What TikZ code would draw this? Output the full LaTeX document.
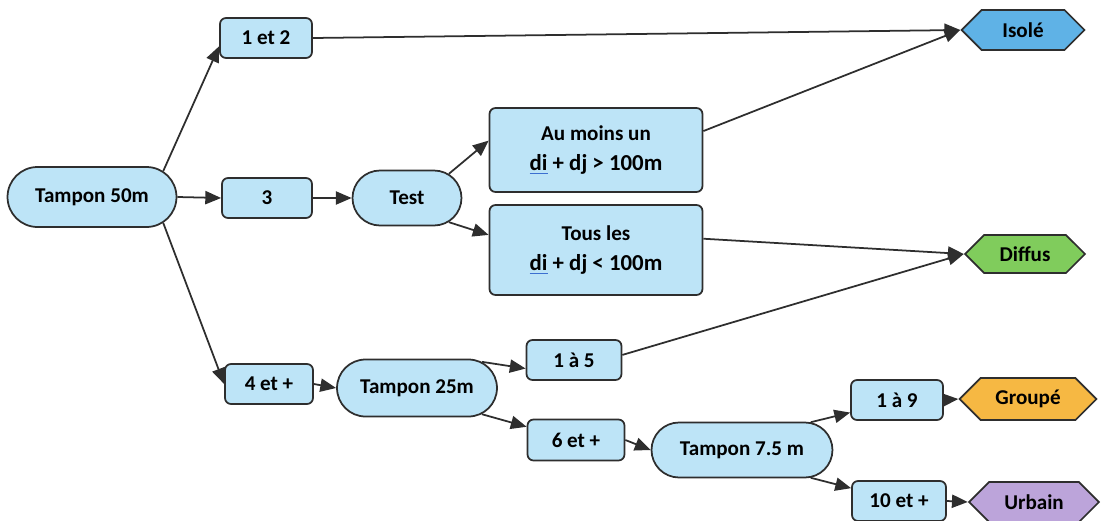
\documentclass[tikz,border=0pt]{standalone}
\usepackage{fontspec}
\setmainfont{Carlito}
\usetikzlibrary{arrows.meta,shapes.misc,shapes.symbols}
\definecolor{boxblue}{HTML}{BDE4F7}
\definecolor{linec}{HTML}{2E2E2E}
\definecolor{isoc}{HTML}{5FB2E6}
\definecolor{difc}{HTML}{80CC5C}
\definecolor{grc}{HTML}{F6B843}
\definecolor{urc}{HTML}{BCA4DA}
\definecolor{spell}{HTML}{3C6FD0}
\newcommand{\spl}[1]{{\color{spell}\underline{\color{black}#1}}}
\begin{document}
\begin{tikzpicture}[x=0.02cm,y=-0.02cm,
  base/.style={draw=linec, line width=1pt, inner sep=0pt, text=black,
    font=\bfseries\fontsize{12}{14}\selectfont},
  box/.style={base, fill=boxblue, rounded corners=0.12cm},
  pill/.style={base, fill=boxblue, rounded rectangle},
  hexa/.style={base, signal, signal to=west and east, signal pointer angle=90},
  conn/.style={draw=linec, line width=1pt, -{Triangle[length=9pt,width=7.5pt]}}]
\useasboundingbox (0,0) rectangle (1103,521);
% nodes
\node[pill, minimum width=3.38cm, minimum height=1.2cm] (t50) at (92,197) {Tampon 50m};
\node[box, minimum width=1.84cm, minimum height=0.8cm] (a12) at (266,38) {1 et 2};
\node[box, minimum width=1.8cm, minimum height=0.8cm] (a3) at (267,198) {3};
\node[pill, minimum width=2.18cm, minimum height=1.1cm] (test) at (407,198) {Test};
\node[box, minimum width=4.26cm, minimum height=1.68cm, align=center] (am) at (596,150)
  {{\fontsize{12}{14}\selectfont Au moins un}\\[3pt]{\fontsize{13}{15}\selectfont\spl{di} + dj > 100m}};
\node[box, minimum width=4.26cm, minimum height=1.8cm, align=center] (tl) at (596,250)
  {{\fontsize{12}{14}\selectfont Tous les}\\[3pt]{\fontsize{13}{15}\selectfont\spl{di} + dj < 100m}};
\node[hexa, fill=isoc, minimum width=2.46cm, minimum height=0.8cm] (iso) at (1023,30) {Isolé};
\node[hexa, fill=difc, minimum width=2.4cm, minimum height=0.76cm] (dif) at (1025,254) {Diffus};
\node[box, minimum width=1.76cm, minimum height=0.8cm] (a4) at (269,384) {4 et +};
\node[pill, minimum width=3.2cm, minimum height=1.14cm] (t25) at (417,388) {Tampon 25m};
\node[box, minimum width=1.9cm, minimum height=0.8cm] (a15) at (574,360) {1 à 5};
\node[box, minimum width=1.94cm, minimum height=0.82cm] (a6) at (576,440) {6 et +};
\node[pill, minimum width=3.62cm, minimum height=1.1cm] (t75) at (742,450) {Tampon 7.5 m};
\node[box, minimum width=1.84cm, minimum height=0.8cm] (a19) at (897,400) {1 à 9};
\node[hexa, fill=grc, minimum width=2.74cm, minimum height=0.84cm] (gr) at (1028,399) {Groupé};
\node[box, minimum width=1.88cm, minimum height=0.8cm] (a10) at (899,501) {10 et +};
\node[hexa, fill=urc, minimum width=2.6cm, minimum height=0.8cm] (ur) at (1034,502) {Urbain};
% connectors
\draw[conn] (t50.20) -- (a12.190);
\draw[conn] (t50.east) -- (a3.west);
\draw[conn] (t50.-20) -- (a4.west);
\draw[conn] (a12.east) -- (iso.west);
\draw[conn] (a3.east) -- (test.west);
\draw[conn] (test.30) -- (am.175);
\draw[conn] (test.-30) -- (tl.172);
\draw[conn] (am.10) -- (iso.west);
\draw[conn] (tl.6) -- (dif.west);
\draw[conn] (a4.east) -- (t25.west);
\draw[conn] (t25.22) -- (a15.190);
\draw[conn] (t25.-22) -- (a6.165);
\draw[conn] (a15.6) -- (dif.west);
\draw[conn] (a6.east) -- (t75.west);
\draw[conn] (t75.22) -- (a19.195);
\draw[conn] (t75.-22) -- (a10.165);
\draw[conn] (a19.east) -- (gr.west);
\draw[conn] (a10.east) -- (ur.west);
\end{tikzpicture}
\end{document}
